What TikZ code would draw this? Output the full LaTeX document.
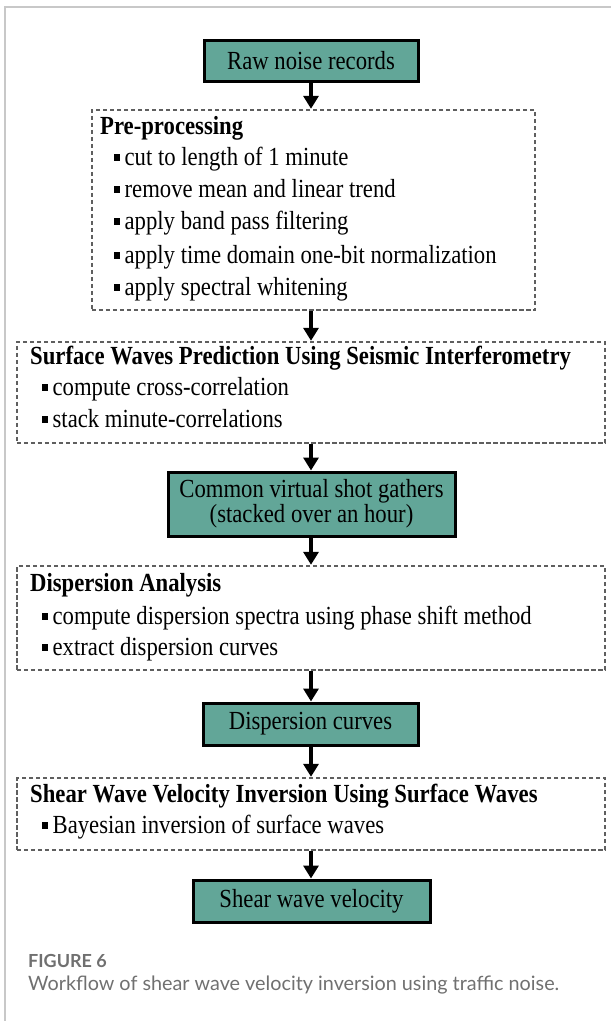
\documentclass[tikz,border=0pt]{standalone}
\usepackage{fontspec}
\setmainfont{Liberation Serif}
\newfontfamily\capfont{Lato}
\usetikzlibrary{arrows.meta}
\definecolor{tealfill}{RGB}{98,166,152}
\definecolor{dashgray}{RGB}{95,95,95}
\definecolor{framegray}{RGB}{200,200,200}
\definecolor{capgray}{RGB}{112,112,112}
\newcommand\mybul{\rule[0.17em]{0.24em}{0.24em}\hspace{0.22em}}
\newcommand\tall[1]{\scalebox{1}[1.15]{#1}}
\begin{document}
\begin{tikzpicture}[x=1bp,y=-1bp,
  solidbox/.style={draw=black,line width=3bp,fill=tealfill,inner sep=0pt,align=center,font=\fontsize{22.7bp}{25bp}\selectfont},
  dashbox/.style={draw=dashgray,line width=2.4bp,dash pattern=on 4.5bp off 2.5bp,inner sep=0pt},
  txt/.style={anchor=base west,inner sep=0pt,font=\fontsize{22.7bp}{27bp}\selectfont},
  head/.style={anchor=base west,inner sep=0pt,font=\fontsize{22.7bp}{27bp}\selectfont\bfseries},
  arr/.style={line width=3.5bp,-{Triangle[width=15bp,length=13bp]}},
  captxt/.style={anchor=base west,inner sep=0pt,text=capgray}
]
\useasboundingbox (0,0) rectangle (611,1021);
\draw[framegray,line width=1.5bp] (5,1021) -- (5,7) -- (611,7);

% solid boxes
\node[solidbox,minimum width=214bp,minimum height=41bp] (raw) at (311,60.5) {\tall{Raw noise records}};
\node[solidbox,minimum width=287bp,minimum height=64bp] (common) at (311.5,504) {\tall{Common virtual shot gathers}\\\tall{(stacked over an hour)}};
\node[solidbox,minimum width=215bp,minimum height=42bp] (dcurves) at (310.5,724) {\tall{Dispersion curves}};
\node[solidbox,minimum width=237bp,minimum height=42bp] (vs) at (311.5,901) {\tall{Shear wave velocity}};

% dashed boxes
\node[dashbox,minimum width=443bp,minimum height=200bp] (pre) at (313.5,210) {};
\node[dashbox,minimum width=588bp,minimum height=101bp] (surf) at (311,392.5) {};
\node[dashbox,minimum width=588bp,minimum height=104bp] (disp) at (311,618) {};
\node[dashbox,minimum width=588bp,minimum height=72bp] (shear) at (311,814) {};

% pre-processing text
\node[head] (preh) at (100,134) {\tall{Pre-processing}};
\node[txt] (pre1) at (114,165) {\tall{\mybul cut to length of 1 minute}};
\node[txt] (pre2) at (114,197) {\tall{\mybul remove mean and linear trend}};
\node[txt] (pre3) at (114,229) {\tall{\mybul apply band pass filtering}};
\node[txt] (pre4) at (114,263) {\tall{\mybul apply time domain one-bit normalization}};
\node[txt] (pre5) at (114,295) {\tall{\mybul apply spectral whitening}};

% surface waves text
\node[head] (surfh) at (30,364) {\tall{Surface Waves Prediction Using Seismic Interferometry}};
\node[txt] (surf1) at (42,395) {\tall{\mybul compute cross-correlation}};
\node[txt] (surf2) at (42,427) {\tall{\mybul stack minute-correlations}};

% dispersion analysis text
\node[head] (disph) at (30,591) {\tall{Dispersion Analysis}};
\node[txt] (disp1) at (42,624) {\tall{\mybul compute dispersion spectra using phase shift method}};
\node[txt] (disp2) at (42,655) {\tall{\mybul extract dispersion curves}};

% shear wave text
\node[head] (shearh) at (30,802) {\tall{Shear Wave Velocity Inversion Using Surface Waves}};
\node[txt] (shear1) at (42,833) {\tall{\mybul Bayesian inversion of surface waves}};

% arrows
\draw[arr] (raw.south) -- (raw.south |- pre.north);
\draw[arr] (pre.south -| raw.south) -- (surf.north -| raw.south);
\draw[arr] (surf.south -| raw.south) -- (common.north -| raw.south);
\draw[arr] (common.south -| raw.south) -- (disp.north -| raw.south);
\draw[arr] (disp.south -| raw.south) -- (dcurves.north -| raw.south);
\draw[arr] (dcurves.south -| raw.south) -- (shear.north -| raw.south);
\draw[arr] (shear.south -| raw.south) -- (vs.north -| raw.south);

% caption
\node[captxt,font=\capfont\fontsize{18bp}{20bp}\selectfont\bfseries] (fig) at (28,967) {FIGURE 6};
\node[captxt,font=\capfont\fontsize{19.8bp}{22bp}\selectfont] (capt) at (28,990) {Workflow of shear wave velocity inversion using traffic noise.};
\end{tikzpicture}
\end{document}
